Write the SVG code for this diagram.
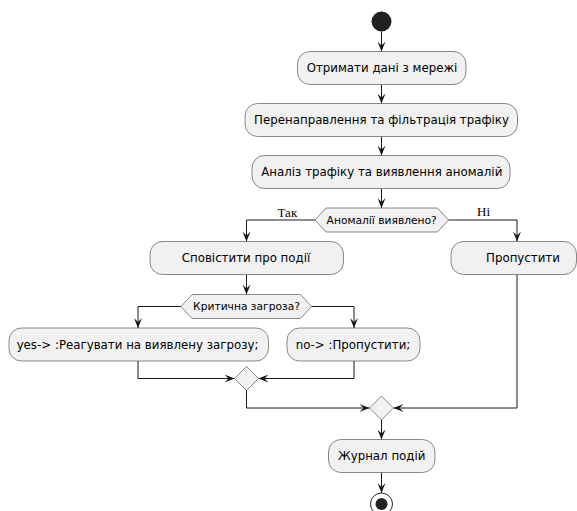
<svg xmlns="http://www.w3.org/2000/svg" width="577" height="511" viewBox="0 0 577 511">
<style>
.box{fill:#F1F1F1;stroke:#181818;stroke-width:0.5}
.t{font-family:"DejaVu Sans",sans-serif;font-size:11.8px;fill:#000;text-anchor:middle}
.dt{font-family:"DejaVu Sans",sans-serif;font-size:10.7px;fill:#000;text-anchor:middle}
.lbl{font-family:"Liberation Serif",serif;font-size:13px;fill:#000}
.c{fill:none;stroke:#181818;stroke-width:1}
</style>
<defs>
<marker id="ah" markerUnits="userSpaceOnUse" markerWidth="10" markerHeight="8" refX="10" refY="4" orient="auto" viewBox="0 0 10 8">
<path d="M0,0 L10,4 L0,8 L4,4 Z" fill="#181818"/>
</marker>
</defs>
<rect width="577" height="511" fill="#FFFFFF"/>
<g id="connectors">
<path class="c" d="M381.5,31.5 V51.5" marker-end="url(#ah)"/>
<path class="c" d="M381.5,84.5 V103.5" marker-end="url(#ah)"/>
<path class="c" d="M381.5,136.5 V155.5" marker-end="url(#ah)"/>
<path class="c" d="M381.5,188.5 V208" marker-end="url(#ah)"/>
<path class="c" d="M315,220 H246.5 V241.5" marker-end="url(#ah)"/>
<path class="c" d="M448.5,220 H517 V241.5" marker-end="url(#ah)"/>
<path class="c" d="M246.5,274.5 V294.5" marker-end="url(#ah)"/>
<path class="c" d="M181,306.5 H138 V328" marker-end="url(#ah)"/>
<path class="c" d="M311.5,306.5 H354 V328" marker-end="url(#ah)"/>
<path class="c" d="M138,361 V378.5 H234.5" marker-end="url(#ah)"/>
<path class="c" d="M354,361 V378.5 H258.5" marker-end="url(#ah)"/>
<path class="c" d="M246.5,390.5 V408 H369.5" marker-end="url(#ah)"/>
<path class="c" d="M517,274.5 V408 H393.5" marker-end="url(#ah)"/>
<path class="c" d="M381.5,420 V439.5" marker-end="url(#ah)"/>
<path class="c" d="M381.5,472.5 V493" marker-end="url(#ah)"/>
<text class="lbl" x="277.5" y="216.5">Так</text>
<text class="lbl" x="477" y="215.5">Ні</text>
</g>
<g id="start"><circle cx="381.5" cy="21.5" r="10" fill="#222222"/></g>
<g id="receive"><rect class="box" x="297.5" y="51.5" width="168.5" height="33" rx="12.5"/><text class="t" x="382" y="72.2">Отримати дані з мережі</text></g>
<g id="redirect"><rect class="box" x="245" y="103.5" width="272.5" height="33" rx="12.5"/><text class="t" x="381.5" y="124.2">Перенаправлення та фільтрація трафіку</text></g>
<g id="analyze"><rect class="box" x="252" y="155.5" width="258" height="33" rx="12.5"/><text class="t" x="381.8" y="176.2">Аналіз трафіку та виявлення аномалій</text></g>
<g id="anomaly"><polygon class="box" points="315,220 326,208 437.5,208 448.5,220 437.5,232 326,232"/><text class="dt" x="381.7" y="223.8">Аномалії виявлено?</text></g>
<g id="notify"><rect class="box" x="150" y="241.5" width="193.5" height="33" rx="12.5"/><text class="t" x="246" y="262.2">Сповістити про події</text></g>
<g id="skip"><rect class="box" x="451" y="241.5" width="125.5" height="33" rx="12.5"/><text class="t" x="523" y="262.2">Пропустити</text></g>
<g id="critical"><polygon class="box" points="181,306.5 192,294.5 300.5,294.5 311.5,306.5 300.5,318.5 192,318.5"/><text class="dt" x="246.5" y="310.3">Критична загроза?</text></g>
<g id="react"><rect class="box" x="9" y="328" width="259.5" height="33" rx="12.5"/><text class="t" x="137.5" y="348.7">yes-&gt; :Реагувати на виявлену загрозу;</text></g>
<g id="skip2"><rect class="box" x="287" y="328" width="133" height="33" rx="12.5"/><text class="t" x="353" y="348.7">no-&gt; :Пропустити;</text></g>
<g id="merge1"><polygon class="box" points="246.5,366.5 258.5,378.5 246.5,390.5 234.5,378.5"/></g>
<g id="merge2"><polygon class="box" points="381.5,396 393.5,408 381.5,420 369.5,408"/></g>
<g id="log"><rect class="box" x="328.5" y="439.5" width="106.5" height="33" rx="12.5"/><text class="t" x="381.7" y="460.2">Журнал подій</text></g>
<g id="stop"><circle cx="381.5" cy="504" r="11" fill="none" stroke="#222222" stroke-width="1"/><circle cx="381.5" cy="504" r="6" fill="#222222"/></g>
</svg>
